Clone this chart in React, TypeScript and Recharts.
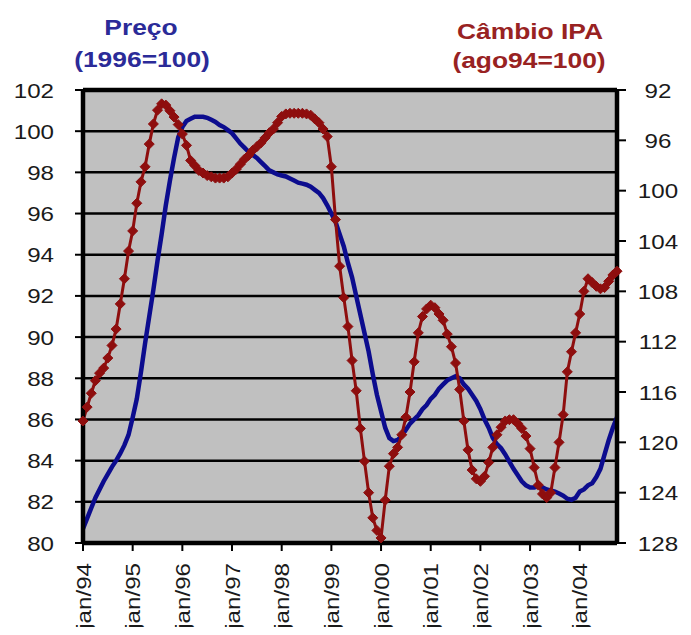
import React from 'react';
import { LineChart, Line, XAxis, YAxis, CartesianGrid, ReferenceLine } from 'recharts';

const monthNames = ['jan', 'fev', 'mar', 'abr', 'mai', 'jun', 'jul', 'ago', 'set', 'out', 'nov', 'dez'];
const firstYear = 1994;

// Preço (1996=100) - left axis
const preco = [
  80.7, 81.2, 81.7, 82.2, 82.6, 83.0, 83.35, 83.7, 84.0, 84.35, 84.75, 85.25,
  86.1, 87.0, 88.3, 89.7, 91.0, 92.3, 93.7, 95.0, 96.4, 97.6, 98.7, 99.7,
  100.2, 100.5, 100.6, 100.7, 100.7, 100.7, 100.65, 100.55, 100.45, 100.3, 100.2, 100.05,
  99.9, 99.65, 99.4, 99.2, 99.0, 98.85, 98.7, 98.5, 98.3, 98.1, 98.0, 97.9,
  97.85, 97.8, 97.7, 97.6, 97.5, 97.45, 97.4, 97.3, 97.15, 97.0, 96.75, 96.4,
  96.0, 95.6, 95.0, 94.4, 93.6, 92.9, 92.0, 91.1, 90.2, 89.3, 88.2, 87.2,
  86.4, 85.6, 85.1, 84.95, 85.0, 85.2, 85.5, 85.8, 86.0, 86.2, 86.5, 86.7,
  87.0, 87.2, 87.5, 87.7, 87.9, 88.0, 88.1, 88.0, 87.7, 87.5, 87.2, 86.9,
  86.5, 86.0, 85.6, 85.1, 84.8, 84.6, 84.3, 83.95, 83.6, 83.3, 83.0, 82.8,
  82.7, 82.7, 82.75, 82.7, 82.6, 82.55, 82.5, 82.4, 82.3, 82.15, 82.1, 82.2,
  82.5, 82.6, 82.8, 82.9, 83.2, 83.6, 84.3, 85.0, 85.6, 86.1,
];

// Câmbio IPA (ago94=100) - right axis, reversed
const cambio = [
  118.3, 117.2, 116.1, 115.1, 114.5, 114.1, 113.3, 112.3, 111.0, 109.0, 107.0, 104.8,
  103.2, 101.0, 99.3, 98.1, 96.3, 94.7, 93.6, 93.1, 93.2, 93.65, 94.15, 94.75,
  95.5, 96.4, 97.6, 98.0, 98.4, 98.6, 98.8, 98.9, 99.0, 99.0, 99.0, 98.9,
  98.6, 98.3, 97.9, 97.5, 97.2, 96.8, 96.5, 96.2, 95.8, 95.4, 95.1, 94.6,
  94.1, 93.9, 93.85, 93.85, 93.85, 93.85, 93.9, 94.0, 94.3, 94.6, 95.1, 95.7,
  98.1, 102.3, 106.0, 108.5, 110.8, 113.5, 115.9, 118.9, 121.5, 124.0, 126.0, 127.0,
  127.6, 124.6, 121.9, 120.9, 120.4, 119.4, 118.0, 116.0, 113.6, 111.3, 110.0, 109.4,
  109.1, 109.3, 109.8, 110.3, 111.4, 112.4, 113.7, 115.8, 118.3, 120.6, 122.2, 122.9,
  123.1, 122.7, 121.6, 120.4, 119.4, 118.8, 118.3, 118.2, 118.2, 118.5, 118.9, 119.5,
  120.5, 122.0, 123.4, 124.1, 124.4, 124.0, 122.0, 120.0, 117.8, 114.4, 112.8, 111.3,
  109.8, 108.0, 107.0, 107.3, 107.6, 107.8, 107.7, 107.2, 106.7, 106.4,
];

const precoTicks = [80, 82, 84, 86, 88, 90, 92, 94, 96, 98, 100, 102];
const cambioTicks = [92, 96, 100, 104, 108, 112, 116, 120, 124, 128];

const titleLeft = ['Preço', '(1996=100)'];
const titleRight = ['Câmbio IPA', '(ago94=100)'];

const data = preco.map((p, i) => ({
  mes: `${monthNames[i % 12]}/${String((firstYear + Math.floor(i / 12)) % 100).padStart(2, '0')}`,
  preco: p,
  cambio: cambio[i],
}));

const BLUE = '#0c0c8e';
const RED = '#8e0e0e';
const FONT = '"Liberation Sans", Arial, sans-serif';
const TEXT = '#1a1a1a';

const LeftTick = (props: any) => {
  const { x, y, payload } = props;
  return (
    <text transform={`translate(${x},${y}) scale(1.15,1)`} textAnchor="end" dy="0.36em"
      fontSize={21} fontFamily={FONT} fill={TEXT}>{payload.value}</text>
  );
};

const RightTick = (props: any) => {
  const { x, y, payload } = props;
  return (
    <text transform={`translate(${x},${y}) scale(1.15,1)`} textAnchor="middle" dy="0.36em"
      fontSize={21} fontFamily={FONT} fill={TEXT}>{payload.value}</text>
  );
};

const BottomTick = (props: any) => {
  const { x, y, payload } = props;
  return (
    <text transform={`translate(${x},${y}) rotate(-90) scale(1.15,1)`} textAnchor="end" dy="0.36em"
      fontSize={21} fontFamily={FONT} fill={TEXT}>{payload.value}</text>
  );
};

const Diamond = (props: any) => {
  const { cx, cy, index } = props;
  if (cx == null || cy == null) return <g key={`d${index}`} />;
  const r = 5;
  return (
    <polygon key={`d${index}`} points={`${cx},${cy - r} ${cx + r},${cy} ${cx},${cy + r} ${cx - r},${cy}`}
      fill={RED} stroke={RED} strokeWidth={1} />
  );
};

export default function App() {
  return (
    <div style={{ position: 'relative', width: 683, height: 619, overflow: 'hidden' }}>
      <LineChart width={683} height={627} data={data} margin={{ top: 82, right: 0, bottom: 0, left: 0 }}>
        <CartesianGrid yAxisId="left" vertical={false} stroke="#000" strokeWidth={2.5} fill="#c0c0c0" fillOpacity={1} />
        <XAxis dataKey="mes" interval={11} height={92} tickSize={8} tickMargin={12}
          axisLine={{ stroke: '#000', strokeWidth: 4.5 }} tickLine={{ stroke: '#000', strokeWidth: 2 }}
          tick={<BottomTick />} />
        <YAxis yAxisId="left" domain={[80, 102]} ticks={precoTicks} width={75} tickSize={8} tickMargin={21}
          axisLine={{ stroke: '#000', strokeWidth: 4.5 }} tickLine={{ stroke: '#000', strokeWidth: 2 }}
          tick={<LeftTick />} allowDataOverflow />
        <YAxis yAxisId="right" orientation="right" domain={[92, 128]} ticks={cambioTicks} reversed width={74}
          tickSize={9} tickMargin={32}
          axisLine={{ stroke: '#000', strokeWidth: 4.5 }} tickLine={{ stroke: '#000', strokeWidth: 2 }}
          tick={<RightTick />} allowDataOverflow />
        <ReferenceLine yAxisId="left" y={102} stroke="#000" strokeWidth={4.5} />
        <Line yAxisId="left" type="linear" dataKey="preco" stroke={BLUE} strokeWidth={4.5} dot={false}
          isAnimationActive={false} />
        <Line yAxisId="right" type="linear" dataKey="cambio" stroke={RED} strokeWidth={3} dot={<Diamond />}
          isAnimationActive={false} />
      </LineChart>
      <svg width={683} height={619} style={{ position: 'absolute', left: 0, top: 0, pointerEvents: 'none' }}>
        <g fontFamily={FONT} fontWeight="bold" fontSize={22}>
          <text transform="translate(133,27) scale(1.2,1)" textAnchor="middle" fill="#2b2b98">{titleLeft[0]}</text>
          <text transform="translate(134,59) scale(1.2,1)" textAnchor="middle" fill="#2b2b98">{titleLeft[1]}</text>
          <text transform="translate(522,31) scale(1.2,1)" textAnchor="middle" fill="#982222">{titleRight[0]}</text>
          <text transform="translate(521,60) scale(1.2,1)" textAnchor="middle" fill="#982222">{titleRight[1]}</text>
        </g>
      </svg>
    </div>
  );
}
